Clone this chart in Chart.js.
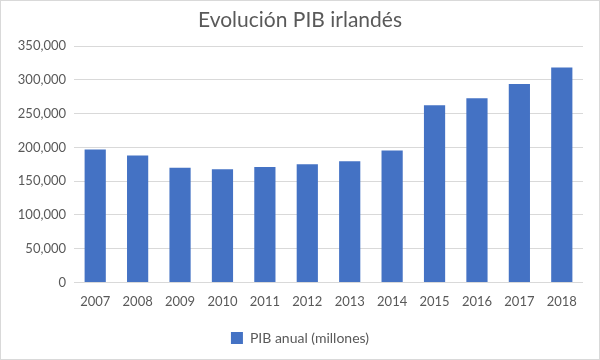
<!DOCTYPE html>
<html>
<head>
<meta charset="utf-8">
<script src="https://cdn.jsdelivr.net/npm/chart.js@4"></script>
<style>
  html, body { margin: 0; padding: 0; background: #fff; }
  #wrap { width: 600px; height: 360px; }
</style>
</head>
<body>
<div id="wrap"><canvas id="chart" width="600" height="360"></canvas></div>
<script>
var years = ['2007', '2008', '2009', '2010', '2011', '2012', '2013', '2014', '2015', '2016', '2017', '2018'];
var pib = [197000, 188000, 170000, 167500, 171000, 175000, 179500, 195500, 262500, 273000, 294000, 318500];
var yTicks = [0, 50000, 100000, 150000, 200000, 250000, 300000, 350000];

var textColor = '#595959';
var fontName = 'Lato, "Open Sans", sans-serif';

// thin grey frame like the office chart
var frame = {
    id: 'frame',
    afterDraw: function (chart) {
        var c = chart.ctx;
        c.save();
        c.strokeStyle = '#d9d9d9';
        c.lineWidth = 1;
        c.strokeRect(0.5, 0.5, chart.width - 1, chart.height - 1);
        c.restore();
    }
};

var ctx = document.getElementById('chart').getContext('2d');
var myChart = new Chart(ctx, {
    type: 'bar',
    data: {
        labels: years,
        datasets: [{
            label: 'PIB anual (millones)',
            data: pib,
            backgroundColor: '#4472c4',
            borderWidth: 0,
            barPercentage: 0.5,
            categoryPercentage: 1
        }]
    },
    options: {
        responsive: false,
        animation: false,
        layout: { padding: { left: 17, right: 17, top: 8, bottom: 5 } },
        plugins: {
            title: {
                display: true,
                text: 'Evolución PIB irlandés',
                color: textColor,
                font: { family: fontName, size: 21, weight: 'normal' },
                padding: { top: 0, bottom: 13 }
            },
            legend: {
                position: 'bottom',
                labels: {
                    color: textColor,
                    font: { family: fontName, size: 14 },
                    boxWidth: 12,
                    boxHeight: 12,
                    padding: 17
                }
            },
            tooltip: { enabled: false }
        },
        scales: {
            x: {
                grid: { display: false },
                border: { display: false },
                ticks: { color: textColor, font: { family: fontName, size: 13 }, padding: 4, maxRotation: 0 }
            },
            y: {
                min: 0,
                max: 350000,
                afterBuildTicks: function (scale) {
                    scale.ticks = yTicks.map(function (v) { return { value: v }; });
                },
                afterFit: function (scale) { scale.width = 57; },
                grid: { color: '#d9d9d9', drawTicks: false },
                border: { display: false },
                ticks: {
                    color: textColor,
                    font: { family: fontName, size: 13 },
                    padding: 8,
                    callback: function (v) { return v.toLocaleString('en-US'); }
                }
            }
        }
    },
    plugins: [frame]
});
</script>
</body>
</html>
